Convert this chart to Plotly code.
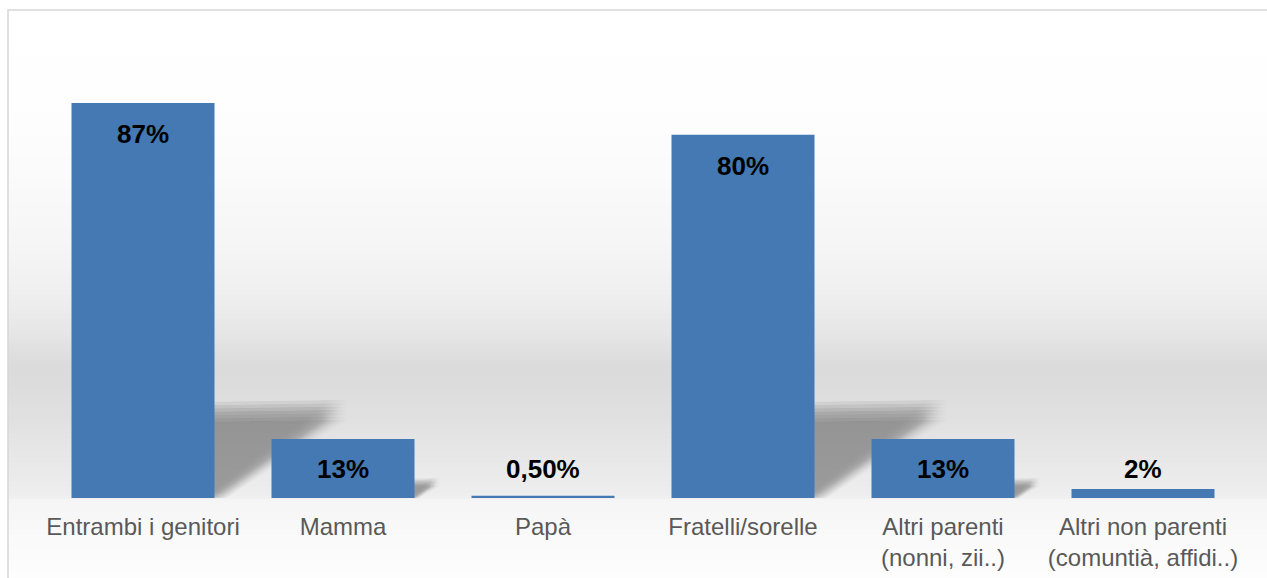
import plotly.graph_objects as go

# Chi vive in casa con te? (percentuali)
categorie = [
    "Entrambi i genitori",
    "Mamma",
    "Papà",
    "Fratelli/sorelle",
    "Altri parenti<br>(nonni, zii..)",
    "Altri non parenti<br>(comuntià, affidi..)",
]
valori = [87, 13, 0.5, 80, 13, 2]
etichette = ["87%", "13%", "0,50%", "80%", "13%", "2%"]

W, H = 1267, 578
ML, MR, MT, MB = 43, 24, 44, 80
PLOT_W = W - ML - MR
PLOT_H = H - MT - MB
Y_MAX = 100.0
BAR_W = 0.715

PX_PER_CAT = PLOT_W / len(categorie)
PX_PER_PCT = PLOT_H / Y_MAX


def py_to_paper(py):
    return (H - MB - py) / PLOT_H


def px_to_paper(px):
    return (px - ML) / PLOT_W


def grey(v):
    v = int(round(v))
    return f"rgb({v},{v},{v})"


# vertical backdrop gradient: (pixel row, grey level)
stops = [
    (10, 255), (100, 254), (170, 251), (250, 245), (300, 238),
    (340, 228), (365, 219), (385, 220), (420, 225), (460, 232),
    (497, 238), (499, 245), (540, 250), (578, 253),
]


def level_at(y):
    for (y0, g0), (y1, g1) in zip(stops, stops[1:]):
        if y0 <= y <= y1:
            t = (y - y0) / (y1 - y0) if y1 > y0 else 0
            return g0 + t * (g1 - g0)
    return stops[-1][1]


shapes = []
step = 3
x_left = px_to_paper(8)
x_right = px_to_paper(W + 5)
y = 10
while y < H:
    y2 = min(y + step, H)
    shapes.append(dict(
        type="rect", xref="paper", yref="paper", layer="below",
        x0=x_left, x1=x_right, y0=py_to_paper(y2), y1=py_to_paper(y),
        fillcolor=grey(level_at((y + y2) / 2)), line=dict(width=0),
    ))
    y = y2

# chart frame (left and top edges)
shapes.append(dict(
    type="path", xref="paper", yref="paper", layer="below",
    path=(f"M {x_left},{py_to_paper(H + 5)} L {x_left},{py_to_paper(10)} "
          f"L {x_right},{py_to_paper(10)}"),
    line=dict(color="#d6d6d6", width=1.5),
))


# soft floor shadows to the right of each bar: the outline is stamped on a
# small grid of offsets with low opacity, which reads as a blurred edge
def shadow_paths(i, v):
    s = min(1.0, v / 20.0) ** 4
    if s < 0.1:
        return []
    xr = i + BAR_W / 2
    # outline in pixel offsets from the bar's bottom-right corner
    pts = [(-12, 86 * s), (125 * s, 88 * s), (2 * s, -6), (-12, -6)]
    blur = 10 * max(s, 0.4)
    n = 7
    out = []
    for a in range(n):
        for b in range(n):
            ox = -blur + 2 * blur * a / (n - 1)
            oy = -blur + 2 * blur * b / (n - 1)
            coords = [
                (xr + (dx + ox) / PX_PER_CAT, max(0.0, (dy + oy) / PX_PER_PCT))
                for dx, dy in pts
            ]
            path = "M " + " L ".join(f"{p:.4f},{q:.4f}" for p, q in coords) + " Z"
            out.append(dict(
                type="path", xref="x", yref="y", layer="below", path=path,
                fillcolor="rgba(100,100,100,0.0115)", line=dict(width=0),
            ))
    return out


for i, v in enumerate(valori):
    shapes.extend(shadow_paths(i, v))

fig = go.Figure()
fig.add_trace(go.Bar(
    x=categorie, y=valori, width=BAR_W,
    marker=dict(color="#4479b4", line=dict(width=0)),
    hoverinfo="skip",
))

# value labels: near the top inside tall bars, just above the floor otherwise
annotations = []
for cat, v, lab in zip(categorie, valori, etichette):
    ypos = max(v - 31 / PX_PER_PCT, 29 / PX_PER_PCT)
    annotations.append(dict(
        x=cat, y=ypos, xref="x", yref="y", text=f"<b>{lab}</b>",
        showarrow=False, yanchor="middle", xanchor="center",
        font=dict(family="Liberation Sans, Arial, sans-serif", size=26, color="#000000"),
    ))

fig.update_layout(
    width=W, height=H,
    margin=dict(l=ML, r=MR, t=MT, b=MB, pad=0, autoexpand=False),
    paper_bgcolor="#ffffff",
    plot_bgcolor="rgba(0,0,0,0)",
    showlegend=False,
    shapes=shapes,
    annotations=annotations,
    xaxis=dict(
        type="category", range=[-0.5, len(categorie) - 0.5],
        showgrid=False, zeroline=False, showline=False, ticks="",
        automargin=False, ticklabelstandoff=12,
        tickfont=dict(family="Liberation Sans, Arial, sans-serif", size=24, color="#595959"),
        fixedrange=True,
    ),
    yaxis=dict(range=[0, Y_MAX], visible=False, fixedrange=True),
)

fig.write_html("out.html", config={"displayModeBar": False})
